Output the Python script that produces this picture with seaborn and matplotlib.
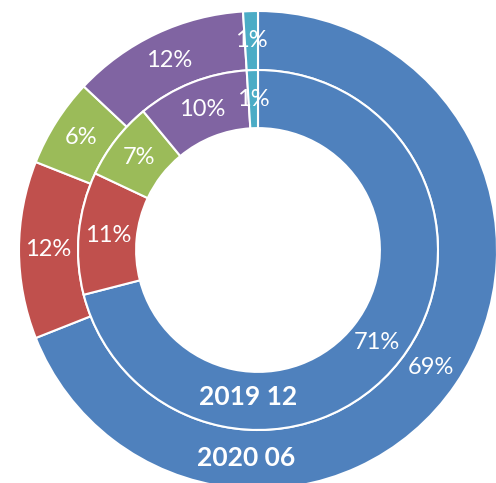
# nested donut: share by category, 2019 12 (inner) vs 2020 06 (outer)
import matplotlib
matplotlib.use("Agg")
import matplotlib.pyplot as plt
import seaborn as sns

# data
categories = ["A", "B", "C", "D", "E"]
share_2020_06 = [69, 12, 6, 12, 1]   # outer ring
share_2019_12 = [71, 11, 7, 10, 1]   # inner ring
ring_names = ["2020 06", "2019 12"]

sns.set_theme(style="white")
plt.rcParams["font.family"] = ["Lato", "DejaVu Sans"]

colors = sns.color_palette(["#4F81BD", "#C0504D", "#9BBB59", "#8064A2", "#4BACC6"])

fig = plt.figure(figsize=(4.96, 4.83), dpi=100)
ax = fig.add_axes([0, 0, 1, 1])

outer_r, mid_r, hole_r = 1.0, 0.753, 0.51
edge = dict(edgecolor="white", linewidth=1.5)
txt = dict(color="white", fontsize=17)

ax.pie(share_2020_06, radius=outer_r, colors=colors, startangle=90,
       counterclock=False, wedgeprops=dict(width=outer_r - mid_r, **edge),
       autopct=lambda p: f"{p:.0f}%", pctdistance=(outer_r + mid_r) / 2 / outer_r,
       textprops=txt)
ax.pie(share_2019_12, radius=mid_r, colors=colors, startangle=90,
       counterclock=False, wedgeprops=dict(width=mid_r - hole_r, **edge),
       autopct=lambda p: f"{p:.0f}%", pctdistance=(mid_r + hole_r) / 2 / mid_r,
       textprops=txt)

# ring names at the bottom of each ring
ax.text(-0.05, -(outer_r + mid_r) / 2 + 0.005, ring_names[0], ha="center", va="center",
        color="white", fontsize=19, fontweight="bold")
ax.text(-0.042, -(mid_r + hole_r) / 2 + 0.015, ring_names[1], ha="center", va="center",
        color="white", fontsize=19, fontweight="bold")

# place the ring centre like the reference (centre at 258,250 px, radius 239 px)
ax.set_aspect("auto")
ax.set_xlim(-258 / 239, (496 - 258) / 239)
ax.set_ylim((250 - 483) / 239, 250 / 239)
ax.axis("off")

fig.savefig("out.png", dpi=100, facecolor="white")
